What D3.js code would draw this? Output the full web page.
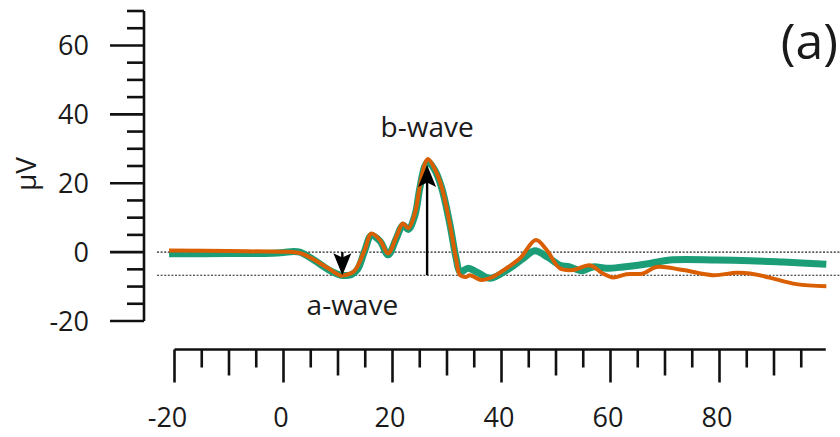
<!DOCTYPE html>
<html>
<head>
<meta charset="utf-8">
<script src="https://cdn.jsdelivr.net/npm/d3@7"></script>
<style>
  body { margin: 0; background: #fff; }
  text { font-family: "Open Sans", "Noto Sans", sans-serif; fill: #1a1a1a; }
</style>
</head>
<body>
<div id="chart"></div>
<script>
// time in ms, amplitude in µV
const greenT = [-21, -10, -2, 0, 1.8, 3, 5.1, 7, 8.8, 10.5, 12.5, 13.6, 14.9, 16.1, 17.7, 19.2, 20.7, 21.9, 22.9, 24.1, 25.0, 25.9, 26.5, 27.7, 29, 30.5, 31.7, 32.4, 33.9, 35.5, 37.9, 41.5, 44, 46.1, 48.5, 50.7, 52.5, 54.7, 56.8, 59.3, 62.3, 67.2, 70.9, 79.4, 85.6, 91.7, 99.6];
const greenV = [-0.5, -0.4, -0.3, -0.1, 0.2, 0.0, -1.8, -3.8, -5.6, -6.7, -6.5, -5.0, 0.4, 4.8, 3.2, -0.8, 4.0, 7.8, 6.6, 10.6, 18.5, 24.8, 26.2, 24.0, 18.8, 8.3, -2.0, -5.7, -4.7, -5.8, -7.6, -4.7, -1.8, 0.4, -1.5, -3.8, -4.3, -5.4, -4.3, -4.7, -4.3, -3.3, -2.3, -2.3, -2.5, -2.9, -3.5];

const orangeT = [-21, -10, 0, 1.8, 3.3, 5.7, 8.2, 10.3, 11.5, 13.0, 14.9, 16.1, 17.7, 19.2, 20.7, 21.9, 22.9, 24.1, 25.0, 25.9, 26.5, 27.7, 29, 30.5, 31.7, 32.4, 33.5, 34.2, 36.3, 38.5, 40.9, 43.4, 46.3, 48.3, 50.7, 53.1, 56.2, 58.6, 60.5, 62.9, 66, 68.4, 73.3, 78.8, 83.1, 85.6, 89.2, 94.1, 99.6];
const orangeV = [0.5, 0.3, 0.1, 0, -0.4, -2.3, -4.7, -6.7, -6.6, -5.5, 0.6, 5.4, 3.5, -0.4, 4.4, 8.3, 6.9, 11.2, 19, 25.4, 27.0, 24.3, 19, 8.3, -2.3, -6.7, -7.2, -6.7, -8.1, -7.1, -4.7, -1.8, 3.5, 0.6, -4.7, -5.2, -3.8, -6.2, -7.4, -6.4, -6.2, -4.3, -5.2, -6.7, -6.0, -6.2, -7.4, -9.3, -9.9];

const refLevels = [0, -6.7];
const xTickLabels = [-20, 0, 20, 40, 60, 80];
const yTickLabels = [-20, 0, 20, 40, 60];
const waveNames = ["a-wave", "b-wave"];
const waveT = [10.8, 26.35];
const waveFrom = [0, -6.7];
const waveTo = [-6.7, 25.3];

const width = 840, height = 437;

const x = d3.scaleLinear().domain([-20, 100]).range([174.5, 828.5]);
const y = d3.scaleLinear().domain([-20, 70]).range([321, 11]);

const svg = d3.select("#chart").append("svg")
  .attr("width", width).attr("height", height);

// dotted reference lines
svg.selectAll(".ref").data(refLevels).enter().append("line")
  .attr("x1", 157).attr("x2", width)
  .attr("y1", d => y(d)).attr("y2", d => y(d))
  .attr("stroke", "#222").attr("stroke-width", 1.1)
  .attr("stroke-dasharray", "2,1.6");

// y axis
const yTicks = d3.range(-20, 71, 5);
const yAxis = svg.append("g");
yAxis.append("line")
  .attr("x1", 144).attr("x2", 144)
  .attr("y1", y(-20)).attr("y2", y(70))
  .attr("stroke", "#111").attr("stroke-width", 2.6);
yAxis.selectAll(".yt").data(yTicks).enter().append("line")
  .attr("x1", d => d % 20 === 0 ? 110 : 127).attr("x2", 144)
  .attr("y1", d => y(d)).attr("y2", d => y(d))
  .attr("stroke", "#111").attr("stroke-width", 2.6);
yAxis.selectAll(".yl").data(yTickLabels).enter().append("text")
  .attr("x", 89).attr("y", d => y(d)).attr("dy", "0.36em")
  .attr("text-anchor", "end").attr("font-size", 27)
  .text(d => d);
svg.append("text")
  .attr("transform", `translate(36,${174}) rotate(-90)`)
  .attr("text-anchor", "middle").attr("font-size", 28)
  .text("µV");

// x axis
const xTicks = d3.range(-20, 96, 5);
const xAxis = svg.append("g");
const axY = 349.5;
xAxis.append("line")
  .attr("x1", x(-20)).attr("x2", x(99.5))
  .attr("y1", axY).attr("y2", axY)
  .attr("stroke", "#111").attr("stroke-width", 2.6);
xAxis.selectAll(".xt").data(xTicks).enter().append("line")
  .attr("x1", d => x(d)).attr("x2", d => x(d))
  .attr("y1", axY)
  .attr("y2", d => axY + (d % 20 === 0 ? 33 : d % 10 === 0 ? 26 : 18))
  .attr("stroke", "#111").attr("stroke-width", 2.6);
xAxis.selectAll(".xl").data(xTickLabels).enter().append("text")
  .attr("x", d => x(d) - (d < 0 ? 7 : 2.5)).attr("y", 427)
  .attr("text-anchor", "middle").attr("font-size", 27)
  .text(d => d);

// traces
const line = d3.line()
  .x(d => x(d[0])).y(d => y(d[1]))
  .curve(d3.curveCatmullRom.alpha(0.5));

const green = greenT.map((t, i) => [t, greenV[i]]);
const orange = orangeT.map((t, i) => [t, orangeV[i]]);

svg.append("path").datum(green)
  .attr("d", line).attr("fill", "none")
  .attr("stroke", "#1b9e77").attr("stroke-width", 7)
  .attr("stroke-linejoin", "round").attr("stroke-linecap", "butt");
svg.append("path").datum(orange)
  .attr("d", line).attr("fill", "none")
  .attr("stroke", "#d95f02").attr("stroke-width", 4)
  .attr("stroke-linejoin", "round").attr("stroke-linecap", "butt");

// arrows
waveT.forEach((t, i) => {
  const x0 = x(t), y0 = y(waveFrom[i]), y1 = y(waveTo[i]);
  const dir = y1 > y0 ? 1 : -1;
  const headLen = 22, headW = 9;
  svg.append("line")
    .attr("x1", x0).attr("x2", x0)
    .attr("y1", y0).attr("y2", y1 - dir * 12)
    .attr("stroke", "#000").attr("stroke-width", 2.4);
  svg.append("path")
    .attr("d", `M${x0},${y1} L${x0 - headW},${y1 - dir * headLen} L${x0},${y1 - dir * headLen * 0.8} L${x0 + headW},${y1 - dir * headLen} Z`)
    .attr("fill", "#000");
});

// labels
svg.append("text")
  .attr("x", x(waveT[0]) + 10).attr("y", 315)
  .attr("text-anchor", "middle").attr("font-size", 28)
  .text(waveNames[0]);
svg.append("text")
  .attr("x", x(waveT[1])).attr("y", 137)
  .attr("text-anchor", "middle").attr("font-size", 28)
  .text(waveNames[1]);

svg.append("text")
  .attr("x", 838).attr("y", 59)
  .attr("text-anchor", "end").attr("font-size", 50)
  .text("(a)");
</script>
</body>
</html>
